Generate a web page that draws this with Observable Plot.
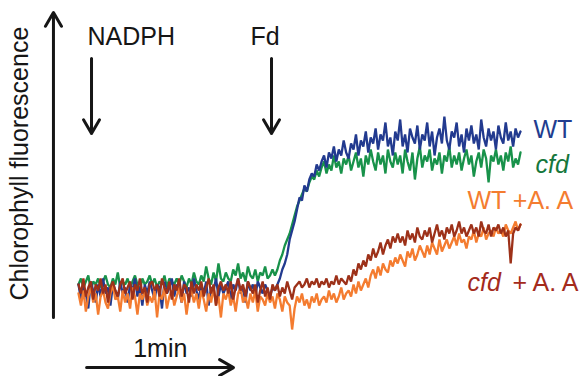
<!DOCTYPE html>
<html><head><meta charset="utf-8">
<script src="https://cdn.jsdelivr.net/npm/d3@7"></script>
<script src="https://cdn.jsdelivr.net/npm/@observablehq/plot@0.6"></script>
<style>body{margin:0;background:#fff} svg{display:block;overflow:visible}</style>
</head><body><div id="chart"></div><script>
// sampling interval of the traces (s)
const step = 1;
// Chlorophyll fluorescence traces (arbitrary units), one value per second
const wt = [
12, 7, 11, 9, 4, 13, 10, 6, 12, 8,
14, 9, 11, 5, 12, 10, 7, 13, 9, 11,
6, 12, 10, 14, 8, 11, 5, 12, 9, 13,
10, 7, 12, 11, 4, 13, 9, 11, 14, 8,
12, 10, 6, 13, 9, 11, 8, 14, 10, 7,
12, 9, 13, 5, 11, 10, 14, 8, 12, 9,
11, 13, 7, 12, 10, 14, 9, 11, 6, 13,
10, 12, 8, 13, 11, 9, 12, 10, 8, 11,
10, 12, 14, 17, 19, 22, 27, 30, 33, 37,
41, 40, 45, 43, 47, 49, 48, 52, 50, 53,
55, 51, 56, 54, 58, 53, 57, 55, 60, 56,
54, 59, 57, 62, 55, 60, 58, 63, 56, 61,
59, 64, 57, 62, 60, 66, 58, 61, 55, 63,
60, 67, 58, 62, 56, 64, 61, 59, 65, 57,
62, 60, 66, 58, 63, 55, 61, 64, 59, 68,
60, 57, 63, 61, 66, 58, 62, 56, 64, 60,
65, 59, 62, 57, 67, 61, 58, 64, 60, 63,
57, 65, 61, 59, 66, 60, 63, 58, 64, 61,
63];
const cfd = [
12, 14, 11, 13, 15, 10, 13, 12, 14, 11,
13, 15, 12, 11, 14, 12, 16, 11, 13, 12,
14, 11, 13, 15, 12, 10, 14, 12, 13, 15,
12, 14, 11, 13, 12, 15, 11, 14, 13, 12,
14, 12, 15, 13, 11, 14, 12, 16, 13, 12,
15, 13, 18, 14, 12, 16, 13, 19, 14, 13,
16, 14, 13, 17, 15, 19, 14, 16, 13, 18,
15, 14, 17, 13, 16, 15, 18, 14, 15, 17,
15, 17, 20, 22, 25, 27, 29, 32, 35, 38,
40, 42, 44, 43, 46, 48, 47, 50, 48, 51,
53, 49, 52, 50, 55, 51, 53, 49, 54, 52,
55, 50, 53, 56, 51, 54, 48, 55, 52, 57,
53, 50, 56, 52, 55, 49, 57, 53, 51, 56,
52, 55, 49, 57, 53, 50, 56, 47, 54, 58,
51, 55, 53, 57, 50, 54, 52, 56, 49, 55,
53, 58, 51, 55, 52, 56, 50, 54, 57, 52,
55, 48, 53, 56, 51, 57, 54, 46, 55, 53,
57, 52, 55, 50, 56, 53, 58, 51, 54, 52,
56];
const wtAA = [
9, 5, 10, 3, 8, 11, 6, 9, 2, 8,
10, 6, 4, 9, 12, 7, 8, 3, 10, 6,
9, 4, 11, 8, 2, 9, 7, 10, 5, 8,
6, 10, 1, 9, 7, 11, 4, 8, 10, 5,
8, 11, 6, 9, 2, 8, 10, 6, 9, 4,
10, 7, 3, 9, 6, 11, 5, 8, 1, 9,
7, 10, 5, 8, 3, 9, 11, 6, 8, 4,
9, 6, 10, 3, 8, 7, 5, 9, 6, 8,
4, 9, 7, 3, 8, 6, 5, -3, 4, 8,
6, 9, 5, 7, 4, 8, 6, 9, 5, 7,
8, 6, 10, 7, 9, 6, 8, 11, 7, 9,
10, 8, 12, 9, 13, 10, 12, 14, 11, 15,
17, 14, 18, 15, 19, 17, 16, 20, 18, 21,
19, 22, 20, 18, 23, 21, 24, 20, 22, 25,
23, 21, 25, 22, 26, 24, 22, 27, 23, 25,
27, 24, 26, 28, 25, 29, 26, 27, 24, 28,
27, 30, 26, 29, 28, 31, 27, 29, 30, 28,
31, 29, 30, 28, 32, 30, 29, 31, 33, 30,
32];
const cfdAA = [
12, 9, 14, 8, 11, 13, 7, 12, 10, 14,
9, 12, 6, 11, 13, 10, 8, 12, 14, 9,
11, 13, 7, 12, 10, 14, 9, 11, 6, 12,
13, 10, 12, 8, 14, 11, 9, 13, 7, 12,
10, 14, 8, 12, 11, 6, 13, 9, 12, 10,
13, 8, 11, 14, 9, 12, 5, 11, 13, 10,
12, 9, 13, 7, 11, 14, 10, 12, 8, 13,
11, 9, 12, 6, 10, 13, 8, 11, 7, 12,
10, 12, 8, 11, 9, 13, 10, 7, 11, 12,
13, 11, 12, 14, 11, 13, 12, 14, 11, 13,
12, 14, 11, 13, 12, 15, 12, 14, 13, 12,
15, 13, 17, 15, 19, 17, 20, 18, 22, 20,
24, 21, 23, 26, 22, 25, 27, 24, 28, 26,
29, 26, 28, 25, 30, 27, 29, 26, 31, 28,
27, 30, 28, 31, 26, 29, 32, 28, 30, 27,
31, 29, 32, 28, 30, 33, 29, 31, 28, 30,
32, 29, 31, 28, 33, 30, 29, 32, 28, 31,
30, 32, 29, 31, 28, 30, 19, 29, 31, 30,
32];
const seriesNames = ["WT", "cfd", "WT +A. A", "cfd + A. A"];
// additions (time in s)
const events = [{label: "NADPH", t: 5.3}, {label: "Fd", t: 78.6}];
const scaleBarLabel = "1min";
const scaleBarSeconds = 60;
const yLabel = "Chlorophyll fluorescence";

const toRows = (arr, name) => arr.map((v, i) => ({t: i * step, v, series: name}));
// drawing order: cfd, WT, WT +A.A, cfd +A.A
const rows = [toRows(cfd, seriesNames[1]), toRows(wt, seriesNames[0]), toRows(wtAA, seriesNames[2]), toRows(cfdAA, seriesNames[3])];
const lineColors = ["#18924a", "#223a8f", "#f47c30", "#9d3119"];
const font = "Liberation Sans, Arial, Helvetica, sans-serif";
const ink = "#161616";
const fs = 25;

const chart = Plot.plot({
  width: 583, height: 376,
  marginLeft: 78, marginRight: 63, marginTop: 20, marginBottom: 56,
  x: {domain: [0, 180], axis: null},
  y: {domain: [0, 100], axis: null},
  style: {fontFamily: font, background: "#fff", overflow: "visible"},
  marks: [
    ...rows.map((r, k) => Plot.line(r, {x: "t", y: "v", stroke: lineColors[k], strokeWidth: 2.3, strokeLinejoin: "miter"})),
    // axis arrows
    Plot.arrow([0], {x1: -10.2, x2: -10.2, y1: 1, y2: 102.7, stroke: ink, strokeWidth: 3}),
    Plot.arrow([0], {x1: 3.3, x2: 3.3 + scaleBarSeconds * 0.997, y1: -15.7, y2: -15.7, stroke: ink, strokeWidth: 3}),
    Plot.text([scaleBarLabel], {x: 3.3 + scaleBarSeconds / 2, y: -12.3, text: d => d, fontSize: fs, fill: ink, textAnchor: "middle", lineAnchor: "bottom"}),
    Plot.text([yLabel], {x: -20.4, y: 52.3, text: d => d, rotate: -90, fontSize: fs, fill: ink, textAnchor: "middle", lineAnchor: "bottom"}),
    // event arrows and labels
    Plot.arrow(events, {x1: "t", x2: "t", y1: 87.3, y2: 62.3, stroke: ink, strokeWidth: 3}),
    Plot.text(events.slice(0, 1), {x: "t", y: 91.7, text: "label", fontSize: fs, fill: ink, lineAnchor: "bottom", textAnchor: "start", dx: -4}),
    Plot.text(events.slice(1), {x: "t", y: 91.7, text: "label", fontSize: fs, fill: ink, lineAnchor: "bottom", textAnchor: "start", dx: -21}),
    // series labels
    Plot.text([seriesNames[0]], {x: 185.3, y: 61, text: d => d, fontSize: fs, fill: "#223d8f", textAnchor: "start", lineAnchor: "bottom"}),
    Plot.text([seriesNames[1]], {x: 186.1, y: 49.3, text: d => d, fontSize: fs, fontStyle: "italic", fill: "#16773c", textAnchor: "start", lineAnchor: "bottom"}),
    Plot.text([seriesNames[2]], {x: 158.4, y: 37.3, text: d => d, fontSize: fs, fill: "#f47c30", textAnchor: "start", lineAnchor: "bottom"}),
    Plot.text([seriesNames[3].split(" ")[0]], {x: 158.4, y: 10, text: d => d, fontSize: fs, fontStyle: "italic", fill: "#a42b1c", textAnchor: "start", lineAnchor: "bottom"}),
    Plot.text([seriesNames[3].split(" ").slice(1).join(" ")], {x: 176.7, y: 10, text: d => d, fontSize: fs, fill: "#a42b1c", textAnchor: "start", lineAnchor: "bottom"})
  ]
});
document.getElementById("chart").appendChild(chart);
</script></body></html>
